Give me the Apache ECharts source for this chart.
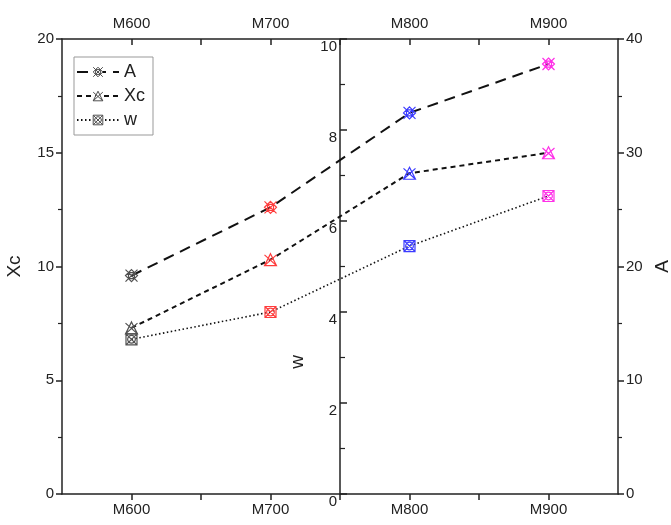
<!DOCTYPE html>
<html>
<head>
<meta charset="utf-8">
<script src="https://cdn.jsdelivr.net/npm/echarts@6/dist/echarts.min.js"></script>
<style>
  html, body { margin: 0; padding: 0; background: #fff; }
  #chart { width: 671px; height: 525px; }
</style>
</head>
<body>
<div id="chart"></div>
<script>
// categories along the x axis (drawn at 1..4 on a value axis)
var categories = ['M600', 'M700', 'M800', 'M900'];
// series values
var aValues = [19.2, 25.2, 33.5, 37.8];   // right axis, 0-40
var xcValues = [7.3, 10.3, 14.1, 15.0];   // left axis, 0-20
var wValues = [3.4, 4.0, 5.45, 6.55];     // middle axis, 0-10
var pointColors = ['#505050', '#ff3c3c', '#3c3cff', '#ff30e8'];

var font = 'Liberation Sans';
var axisColor = '#222';

// marker shapes
var symA = 'path://M5,0 L10,5 L5,10 L0,5 Z M0,0 L10,10 M10,0 L0,10 M2.5,2.5 L7.5,2.5 L7.5,7.5 L2.5,7.5 Z';
var symXc = 'path://M5,0 L10,10 L0,10 Z M0,1 L10,10 M10,1 L0,10';
var symW = 'path://M0,0 L10,0 L10,10 L0,10 Z M0,0 L10,10 M10,0 L0,10 M1.5,5 A3.5,3.5 0 1,0 8.5,5 A3.5,3.5 0 1,0 1.5,5';

function toPoints(values) {
    return values.map(function (v, i) {
        return {
            value: [i + 1, v],
            itemStyle: { borderColor: pointColors[i] }
        };
    });
}

function catLabel(v) {
    var i = Math.round(v);
    if (Math.abs(v - i) > 1e-6) return '';
    return categories[i - 1] || '';
}

var chart = echarts.init(document.getElementById('chart'));

var xBase = {
    type: 'value',
    min: 0.5,
    max: 4.5,
    interval: 0.5,
    splitLine: { show: false },
    axisLine: { show: true, onZero: false, lineStyle: { color: axisColor, width: 1.5 } },
    axisTick: { show: true, length: 6, lineStyle: { color: axisColor, width: 1.5 } },
    axisLabel: {
        color: axisColor, fontFamily: font, fontSize: 15, margin: 8,
        formatter: catLabel, showMinLabel: false, showMaxLabel: false
    }
};

var yBase = {
    type: 'value',
    splitLine: { show: false },
    axisLine: { show: true, onZero: false, lineStyle: { color: axisColor, width: 1.5 } },
    axisTick: { show: true, length: 6, lineStyle: { color: axisColor, width: 1.5 } },
    minorTick: { show: true, splitNumber: 2, length: 4, lineStyle: { color: axisColor, width: 1.2 } },
    axisLabel: { color: axisColor, fontFamily: font, fontSize: 15, margin: 8 },
    nameLocation: 'middle',
    nameRotate: 90,
    nameTextStyle: { color: axisColor, fontFamily: font, fontSize: 19 }
};

var legendIcon = { color: '#fff', borderColor: '#505050', borderWidth: 1 };

var option = {
    backgroundColor: '#fff',
    animation: false,
    grid: { left: 62, right: 53, top: 39, bottom: 31, outerBoundsMode: 'none' },
    legend: {
        orient: 'vertical',
        left: 74,
        top: 57,
        padding: [6, 8, 6, 2],
        itemGap: 6,
        itemWidth: 42,
        itemHeight: 12,
        borderColor: '#999',
        borderWidth: 1,
        backgroundColor: '#fff',
        itemStyle: legendIcon,
        textStyle: { color: axisColor, fontFamily: font, fontSize: 18 },
        data: ['A', 'Xc', 'w']
    },
    xAxis: [
        Object.assign({}, xBase, { position: 'bottom' }),
        Object.assign({}, xBase, {
            position: 'top',
            axisTick: { show: true, inside: true, length: 6, lineStyle: { color: axisColor, width: 1.5 } }
        })
    ],
    yAxis: [
        Object.assign({}, yBase, { position: 'left', min: 0, max: 20, interval: 5, name: 'Xc', nameGap: 38 }),
        Object.assign({}, yBase, { position: 'right', min: 0, max: 40, interval: 10, name: 'A', nameGap: 34 }),
        Object.assign({}, yBase, {
            position: 'left', offset: -278, min: 0, max: 10, interval: 2,
            axisTick: { show: true, inside: true, length: 7, lineStyle: { color: axisColor, width: 1.5 } },
            minorTick: { show: true, splitNumber: 2, length: 5, lineStyle: { color: axisColor, width: 1.2 } },
            axisLabel: { color: axisColor, fontFamily: font, fontSize: 15, margin: 3, verticalAlign: 'top' }
        })
    ],
    graphic: [{
        type: 'text',
        x: 298,
        y: 362,
        rotation: Math.PI / 2,
        style: { text: 'w', fill: axisColor, font: '19px Liberation Sans', textAlign: 'center', textVerticalAlign: 'middle' }
    }],
    series: [
        {
            name: 'A', type: 'line', xAxisIndex: 0, yAxisIndex: 1,
            symbol: symA, symbolSize: 12,
            itemStyle: { color: 'none', borderColor: '#505050', borderWidth: 1.2 },
            lineStyle: { color: '#111', width: 2, type: [11, 7] },
            data: toPoints(aValues)
        },
        {
            name: 'Xc', type: 'line', xAxisIndex: 0, yAxisIndex: 0,
            symbol: symXc, symbolSize: 12,
            itemStyle: { color: 'none', borderColor: '#505050', borderWidth: 1.2 },
            lineStyle: { color: '#111', width: 2, type: [5, 4] },
            data: toPoints(xcValues)
        },
        {
            name: 'w', type: 'line', xAxisIndex: 0, yAxisIndex: 2,
            symbol: symW, symbolSize: 11,
            itemStyle: { color: 'none', borderColor: '#505050', borderWidth: 1.2 },
            lineStyle: { color: '#111', width: 1.6, type: [1.5, 2.5] },
            data: toPoints(wValues)
        }
    ]
};

chart.setOption(option);
</script>
</body>
</html>
